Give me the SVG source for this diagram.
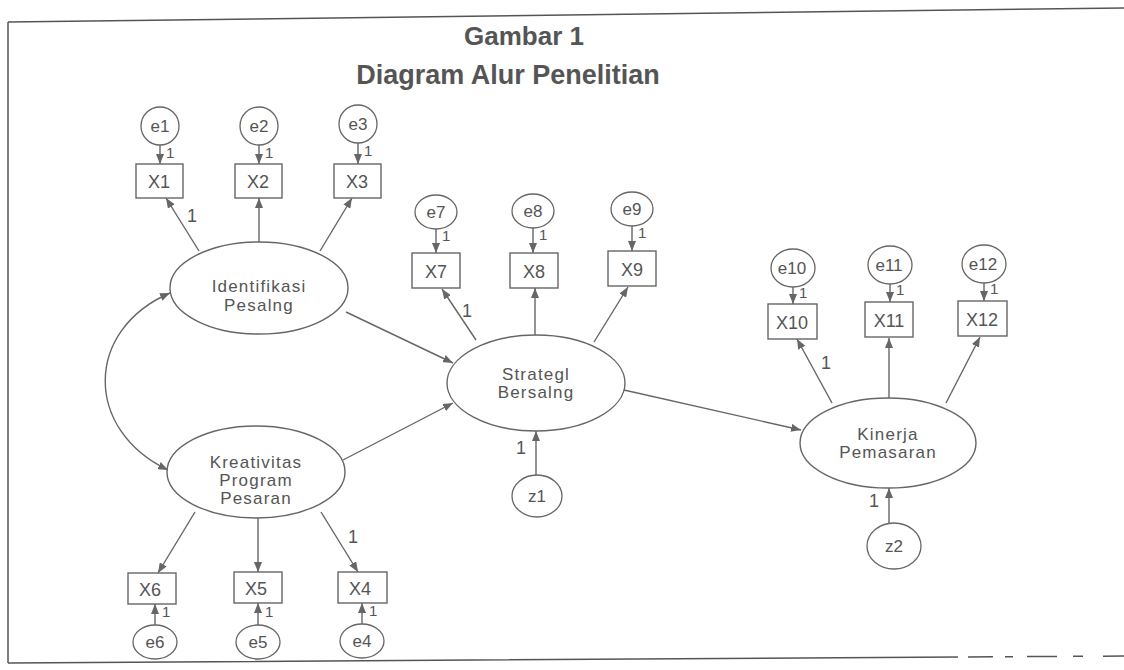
<svg xmlns="http://www.w3.org/2000/svg" width="1124" height="670" viewBox="0 0 1124 670">
<defs>
<marker id="ah" viewBox="0 0 10 8" refX="10" refY="4" markerWidth="10" markerHeight="8" markerUnits="userSpaceOnUse" orient="auto-start-reverse">
<path d="M0,0 L10,4 L0,8 z" fill="#666"/>
</marker>
<style>
.bg{fill:#fff}
.frame{stroke:#555;stroke-width:1.5;fill:none}
.lat{fill:#fff;stroke:#666;stroke-width:1.4}
.obs{fill:#fff;stroke:#666;stroke-width:1.4}
.err{fill:#fff;stroke:#666;stroke-width:1.3}
.c line,.c path{stroke:#666;stroke-width:1.4;fill:none;marker-end:url(#ah)}
.t{font-family:"Liberation Sans",Arial,sans-serif;fill:#555;text-anchor:middle}
.title{font-weight:bold}
.lt{font-size:17px;letter-spacing:1.2px}
.ot{font-size:18px}
.et{font-size:17px}
.one{font-size:18px;fill:#555;font-family:"Liberation Sans",Arial,sans-serif}
.sm{font-size:15px;fill:#555;font-family:"Liberation Sans",Arial,sans-serif}
</style>
</defs>
<rect class="bg" x="0" y="0" width="1124" height="670"/>
<g id="frame">
<line class="frame" x1="8" y1="22" x2="1124" y2="8"/>
<line class="frame" x1="8" y1="22" x2="8" y2="663"/>
<line class="frame" x1="8" y1="663" x2="1124" y2="656" stroke-dasharray="950 10 25 12 8 14 30 16 10 20"/>
</g>
<g id="title">
<text class="t title" x="524" y="45" font-size="26">Gambar 1</text>
<text class="t title" x="508" y="84" font-size="27">Diagram Alur Penelitian</text>
</g>
<g id="connectors" class="c">
<line x1="160" y1="145" x2="160" y2="164"/>
<line x1="259" y1="145" x2="259" y2="164"/>
<line x1="358" y1="143" x2="358" y2="164"/>
<line x1="199" y1="251" x2="166" y2="198"/>
<line x1="259" y1="242" x2="259" y2="198"/>
<line x1="320" y1="251" x2="352" y2="198"/>
<line x1="346" y1="312" x2="453" y2="363"/>
<line x1="343" y1="460" x2="453" y2="403"/>
<line x1="624" y1="390" x2="801" y2="430"/>
<line x1="476" y1="340" x2="442" y2="289"/>
<line x1="535" y1="335" x2="535" y2="288"/>
<line x1="594" y1="342" x2="628" y2="287"/>
<line x1="436" y1="229" x2="436" y2="253"/>
<line x1="533" y1="228" x2="533" y2="253"/>
<line x1="632" y1="226" x2="632" y2="251"/>
<line x1="832" y1="403" x2="797" y2="339"/>
<line x1="889" y1="398" x2="889" y2="338"/>
<line x1="946" y1="403" x2="980" y2="337"/>
<line x1="793" y1="287" x2="793" y2="304"/>
<line x1="890" y1="284" x2="890" y2="302"/>
<line x1="984" y1="283" x2="984" y2="301"/>
<line x1="536" y1="475" x2="536" y2="431"/>
<line x1="889" y1="523" x2="889" y2="488"/>
<line x1="195" y1="512" x2="158" y2="573"/>
<line x1="258" y1="517" x2="258" y2="572"/>
<line x1="321" y1="512" x2="358" y2="572"/>
<line x1="155" y1="625" x2="155" y2="604"/>
<line x1="258" y1="625" x2="258" y2="603"/>
<line x1="362" y1="624" x2="362" y2="603"/>
<path d="M170,293 C84,330 84,430 168,470" style="marker-start:url(#ah)"/>
</g>
<g id="labels">
<text class="sm" x="166" y="158">1</text>
<text class="sm" x="265" y="158">1</text>
<text class="sm" x="364" y="156">1</text>
<text class="sm" x="442" y="241">1</text>
<text class="sm" x="539" y="240">1</text>
<text class="sm" x="638" y="238">1</text>
<text class="sm" x="799" y="298">1</text>
<text class="sm" x="896" y="295">1</text>
<text class="sm" x="990" y="294">1</text>
<text class="sm" x="162" y="617">1</text>
<text class="sm" x="265" y="617">1</text>
<text class="sm" x="369" y="616">1</text>
<text class="one" x="187" y="222">1</text>
<text class="one" x="462" y="317">1</text>
<text class="one" x="821" y="369">1</text>
<text class="one" x="348" y="543">1</text>
<text class="one" x="516" y="454">1</text>
<text class="one" x="869" y="507">1</text>
</g>
<g id="identifikasi">
<ellipse class="lat" cx="259" cy="288" rx="89" ry="46"/>
<text class="t lt" x="259" y="292">Identifikasi</text>
<text class="t lt" x="259" y="311">Pesalng</text>
</g>
<g id="kreativitas">
<ellipse class="lat" cx="256" cy="472" rx="89" ry="46"/>
<text class="t lt" x="256" y="468">Kreativitas</text>
<text class="t lt" x="256" y="486">Program</text>
<text class="t lt" x="256" y="504">Pesaran</text>
</g>
<g id="strategi">
<ellipse class="lat" cx="536" cy="383" rx="89" ry="48"/>
<text class="t lt" x="536" y="380">Strategl</text>
<text class="t lt" x="536" y="398">Bersalng</text>
</g>
<g id="kinerja">
<ellipse class="lat" cx="888" cy="443" rx="88" ry="45"/>
<text class="t lt" x="888" y="440">Kinerja</text>
<text class="t lt" x="888" y="458">Pemasaran</text>
</g>
<g id="x1"><rect class="obs" x="136" y="164" width="47" height="34"/><text class="t ot" x="159" y="188">X1</text></g>
<g id="x2"><rect class="obs" x="235" y="164" width="47" height="34"/><text class="t ot" x="258" y="188">X2</text></g>
<g id="x3"><rect class="obs" x="334" y="164" width="47" height="34"/><text class="t ot" x="357" y="188">X3</text></g>
<g id="x7"><rect class="obs" x="412" y="253" width="48" height="35"/><text class="t ot" x="436" y="278">X7</text></g>
<g id="x8"><rect class="obs" x="510" y="253" width="48" height="35"/><text class="t ot" x="534" y="278">X8</text></g>
<g id="x9"><rect class="obs" x="608" y="251" width="48" height="35"/><text class="t ot" x="632" y="276">X9</text></g>
<g id="x10"><rect class="obs" x="768" y="304" width="49" height="35"/><text class="t ot" x="792" y="329">X10</text></g>
<g id="x11"><rect class="obs" x="865" y="302" width="48" height="35"/><text class="t ot" x="889" y="327">X11</text></g>
<g id="x12"><rect class="obs" x="958" y="301" width="49" height="35"/><text class="t ot" x="982" y="326">X12</text></g>
<g id="x6"><rect class="obs" x="128" y="573" width="48" height="31"/><text class="t ot" x="150" y="596">X6</text></g>
<g id="x5"><rect class="obs" x="234" y="572" width="48" height="31"/><text class="t ot" x="256" y="595">X5</text></g>
<g id="x4"><rect class="obs" x="338" y="572" width="49" height="31"/><text class="t ot" x="360" y="595">X4</text></g>
<g id="e1"><ellipse class="err" cx="160" cy="126" rx="19" ry="19"/><text class="t et" x="160" y="132">e1</text></g>
<g id="e2"><ellipse class="err" cx="259" cy="126" rx="19" ry="19"/><text class="t et" x="259" y="132">e2</text></g>
<g id="e3"><ellipse class="err" cx="358" cy="124" rx="19" ry="19"/><text class="t et" x="358" y="130">e3</text></g>
<g id="e7"><ellipse class="err" cx="436" cy="212" rx="21" ry="17"/><text class="t et" x="436" y="218">e7</text></g>
<g id="e8"><ellipse class="err" cx="533" cy="211" rx="21" ry="17"/><text class="t et" x="533" y="217">e8</text></g>
<g id="e9"><ellipse class="err" cx="632" cy="209" rx="21" ry="17"/><text class="t et" x="632" y="215">e9</text></g>
<g id="e10"><ellipse class="err" cx="793" cy="268" rx="22" ry="19"/><text class="t et" x="792" y="274">e10</text></g>
<g id="e11"><ellipse class="err" cx="890" cy="265" rx="22" ry="19"/><text class="t et" x="889" y="271">e11</text></g>
<g id="e12"><ellipse class="err" cx="984" cy="264" rx="22" ry="19"/><text class="t et" x="983" y="270">e12</text></g>
<g id="e6"><ellipse class="err" cx="155" cy="642" rx="22" ry="17"/><text class="t et" x="155" y="648">e6</text></g>
<g id="e5"><ellipse class="err" cx="258" cy="642" rx="22" ry="17"/><text class="t et" x="258" y="648">e5</text></g>
<g id="e4"><ellipse class="err" cx="362" cy="641" rx="22" ry="17"/><text class="t et" x="362" y="647">e4</text></g>
<g id="z1"><ellipse class="err" cx="537" cy="496" rx="25" ry="21"/><text class="t et" x="537" y="502">z1</text></g>
<g id="z2"><ellipse class="err" cx="894" cy="546" rx="27" ry="23"/><text class="t et" x="894" y="552">z2</text></g>
</svg>
